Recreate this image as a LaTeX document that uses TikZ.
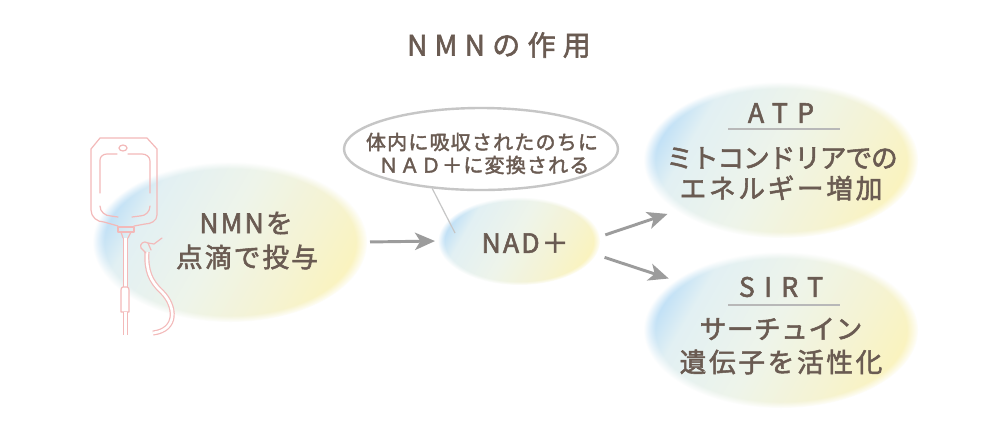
\documentclass[tikz,border=0pt]{standalone}
\usepackage{fontspec}
\setmainfont{Noto Sans CJK JP}
\usetikzlibrary{shapes.geometric,arrows.meta,fadings}
\definecolor{txt}{HTML}{6A5B52}
\definecolor{blueC}{HTML}{C2E1F6}
\definecolor{mintC}{HTML}{E2F0F3}
\definecolor{mintD}{HTML}{EEF4EA}
\definecolor{yelB}{HTML}{F5F3D3}
\definecolor{yelC}{HTML}{FAF3BF}
\definecolor{arrC}{HTML}{9C9C9C}
\definecolor{bubC}{HTML}{C6C6C6}
\definecolor{pinkC}{HTML}{F3B9B9}
\definecolor{lineC}{HTML}{B8B8B8}
\pgfdeclarehorizontalshading{blobshade}{100bp}{color(0bp)=(blueC); color(25bp)=(blueC); color(31bp)=(mintC); color(48bp)=(mintD); color(64bp)=(yelB); color(75bp)=(yelC); color(100bp)=(yelC)}
\pgfdeclareradialshading{softshade}{\pgfpointorigin}{color(0bp)=(white); color(22.8bp)=(white); color(25bp)=(black); color(50bp)=(black)}
\pgfdeclarefading{softedge}{\pgfuseshading{softshade}}
\newcommand{\myfs}[1]{\fontsize{#1}{#1}\selectfont}
\newcommand{\LS}[2]{{\addfontfeature{LetterSpace=#1,FakeBold=2}#2}}
\tikzset{
  blob/.style={ellipse, inner sep=0pt, outer sep=0pt, shade, shading=blobshade, shading angle=-30, path fading=softedge},
  lbl/.style={text=txt, inner sep=0pt, anchor=center},
  arr/.style={draw=arrC, line width=2.2pt, -{Stealth[length=15pt,width=13pt,inset=4pt]}},
  ul/.style={draw=lineC, line width=1.8pt},
  bag/.style={draw=pinkC, line width=0.9pt, line cap=round, line join=round},
  tube/.style={draw=pinkC, line width=0.9pt, double=white, double distance=2pt}
}
\begin{document}
\begin{tikzpicture}[x=0.75pt,y=-0.75pt]
\useasboundingbox (0,0) rectangle (1000,430);
\fill[white] (0,0) rectangle (1000,430);

% title
\node[lbl, font=\myfs{21pt}] (title) at (499,45) {\LS{26}{NMNの作用}};

% ellipses
\node[blob, minimum width=205.5pt, minimum height=120pt] (nmn) at (230,242) {};
\node[blob, minimum width=121.5pt, minimum height=66pt] (nad) at (519,241) {};
\node[blob, minimum width=205.5pt, minimum height=117pt] (atp) at (781,160) {};
\node[blob, minimum width=205.5pt, minimum height=117pt] (sirt) at (781,330) {};

% IV bag
\draw[bag] (118,226) -- (104,222) to[out=180,in=-90] (91,210) -- (91,149) -- (100,138) -- (147,138) -- (157,149) -- (157,215) to[out=-90,in=0] (145,224) -- (134,226);
\draw[bag] (123,148) ellipse [x radius=4, y radius=3];
\draw[bag] (117,154) -- (107,154) to[out=180,in=90] (100,160) -- (100,193);
\draw[bag] (128,154) -- (142,154) to[out=0,in=90] (150,161) -- (150,193);
\draw[bag] (100,206) to[out=-90,in=180] (111,216) -- (118,217);
\draw[bag] (132,217) -- (140,216) to[out=0,in=-90] (150,206);
\draw[bag] (118,227) rectangle (134,232);
\draw[bag] (121,232) -- (123,238);
\draw[bag] (131,232) -- (128,238);
\draw[tube] (125.3,238) -- (125.3,287);
\draw[bag, fill=white] (121,312) -- (121,290) to[out=90,in=180] (123,287) -- (127,287) to[out=0,in=90] (129,290) -- (129,312) -- cycle;
\draw[tube] (125.3,312) -- (125.3,335);
\draw[tube] (147,252) .. controls (146,270) and (150,281) .. (162,292) .. controls (176,306) and (178,330) .. (153,333);
\draw[bag] (146,253) -- (141,248) .. controls (139,244) and (144,240) .. (148,243) -- (154,244) -- (162,238);
\draw[bag] (148,243) -- (151,250);

% speech bubble
\node[ellipse, draw=bubC, line width=1.8pt, fill=white, inner sep=0pt, minimum width=205.5pt, minimum height=61.5pt] (bub) at (481,149) {};
\coordinate (tailend) at (455,233);
\draw[bubC, line width=0.9pt] (bub.219) -- (tailend);
\node[lbl, font=\myfs{15pt}] (b1) at (482,142) {\LS{6}{体内に吸収されたのちに}};
\node[lbl, font=\myfs{15pt}] (b2) at (484,165) {\LS{6}{ＮＡＤ＋に変換される}};

% texts
\node[lbl, font=\myfs{20pt}] (n1) at (246,223) {\LS{8}{NMNを}};
\node[lbl, font=\myfs{20pt}] (n2) at (247,257) {\LS{8}{点滴で投与}};
\node[lbl, font=\myfs{20pt}] (nadt) at (525,243) {\LS{8}{NAD＋}};

\node[lbl, font=\myfs{20pt}] (atpt) at (781,113) {\LS{35}{ATP}};
\draw[ul] (728,129) -- (840,129);
\node[lbl, font=\myfs{20pt}] (a1) at (782,158) {\LS{-4}{ミトコンドリアでの}};
\node[lbl, font=\myfs{20pt}] (a2) at (781,188) {\LS{10}{エネルギー増加}};

\node[lbl, font=\myfs{20pt}] (sirtt) at (781,287) {\LS{35}{SIRT}};
\draw[ul] (728,305) -- (840,305);
\node[lbl, font=\myfs{20pt}] (s1) at (781,329) {\LS{2}{サーチュイン}};
\node[lbl, font=\myfs{20pt}] (s2) at (781,362) {\LS{10}{遺伝子を活性化}};

% arrows
\draw[arr, shorten <=2.25pt, shorten >=2.25pt] (nmn.east) -- (nad.west);
\draw[arr, shorten <=4.5pt, shorten >=7.5pt] (nad.3) -- (atp.206);
\draw[arr, shorten <=6.75pt, shorten >=5pt] (nad.-10) -- (sirt.155);
\end{tikzpicture}
\end{document}
